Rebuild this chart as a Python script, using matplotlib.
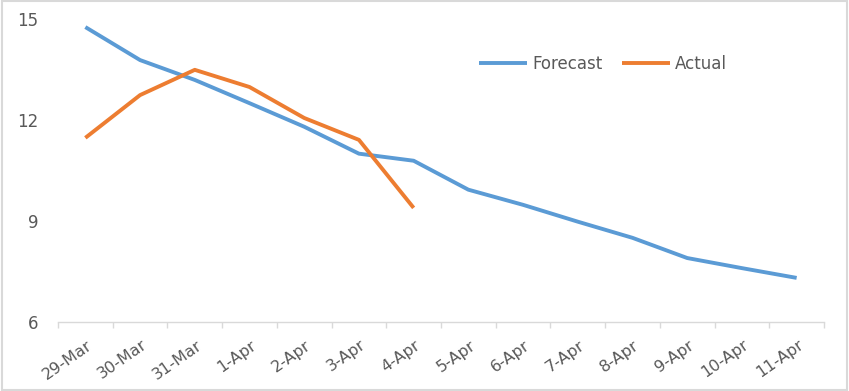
import numpy as np
import matplotlib
matplotlib.use("Agg")
import matplotlib.pyplot as plt
import matplotlib.transforms as mtransforms
from matplotlib.patches import Rectangle

dates = ["29-Mar", "30-Mar", "31-Mar", "1-Apr", "2-Apr", "3-Apr", "4-Apr",
         "5-Apr", "6-Apr", "7-Apr", "8-Apr", "9-Apr", "10-Apr", "11-Apr"]
forecast = [14.76, 13.78, 13.19, 12.5, 11.8, 11.0, 10.79,
            9.93, 9.48, 8.98, 8.5, 7.9, 7.6, 7.31]
actual = [11.47, 12.74, 13.49, 12.98, 12.06, 11.41, 9.39]

plt.rcParams['font.family'] = ['DejaVu Sans']
txt = '#595959'
grey = '#D9D9D9'

fig = plt.figure(figsize=(8.49, 3.91), dpi=100)
ax = fig.add_axes([58 / 849, 1 - 322 / 391, (824 - 58) / 849, (322 - 19) / 391])

n = np.arange(len(dates))
ax.plot(n, forecast, color='#5B9BD5', lw=2.8, label='Forecast', solid_capstyle='butt')
ax.plot(n[:len(actual)], actual, color='#ED7D31', lw=2.8, label='Actual', solid_capstyle='butt')

ax.set_xlim(-0.5, len(dates) - 0.5)
ax.set_ylim(6, 15)
ax.set_yticks([6, 9, 12, 15])
ax.tick_params(axis='y', length=0, pad=14, labelsize=12, labelcolor=txt)

# category boundaries get the tick marks, labels sit at centres
ax.set_xticks(np.arange(-0.5, len(dates), 1.0))
ax.set_xticklabels([])
ax.tick_params(axis='x', which='major', length=4, color=grey, width=1)
ax.set_xticks(n, minor=True)
ax.set_xticklabels(dates, minor=True, rotation=35, ha='right',
                   rotation_mode='anchor', fontsize=11.5, color=txt)
ax.tick_params(axis='x', which='minor', length=0, pad=11)
shift = mtransforms.ScaledTranslation(1 / 100, 0, fig.dpi_scale_trans)
for lab in ax.get_xticklabels(minor=True):
    lab.set_transform(lab.get_transform() + shift)

for s in ['top', 'right', 'left']:
    ax.spines[s].set_visible(False)
ax.spines['bottom'].set_color(grey)
ax.spines['bottom'].set_linewidth(1)

ax.legend(loc='center', bbox_to_anchor=((603 - 58) / 766, 1 - (64 - 19) / 303),
          ncol=2, frameon=False, fontsize=12, handlelength=2.9, handletextpad=0.3,
          columnspacing=1.15, labelcolor=txt)

fig.patches.append(Rectangle((0.002, 0.003), 0.996, 0.994, transform=fig.transFigure,
                             fill=False, edgecolor=grey, lw=1.5))

fig.savefig('out.png', dpi=100)
